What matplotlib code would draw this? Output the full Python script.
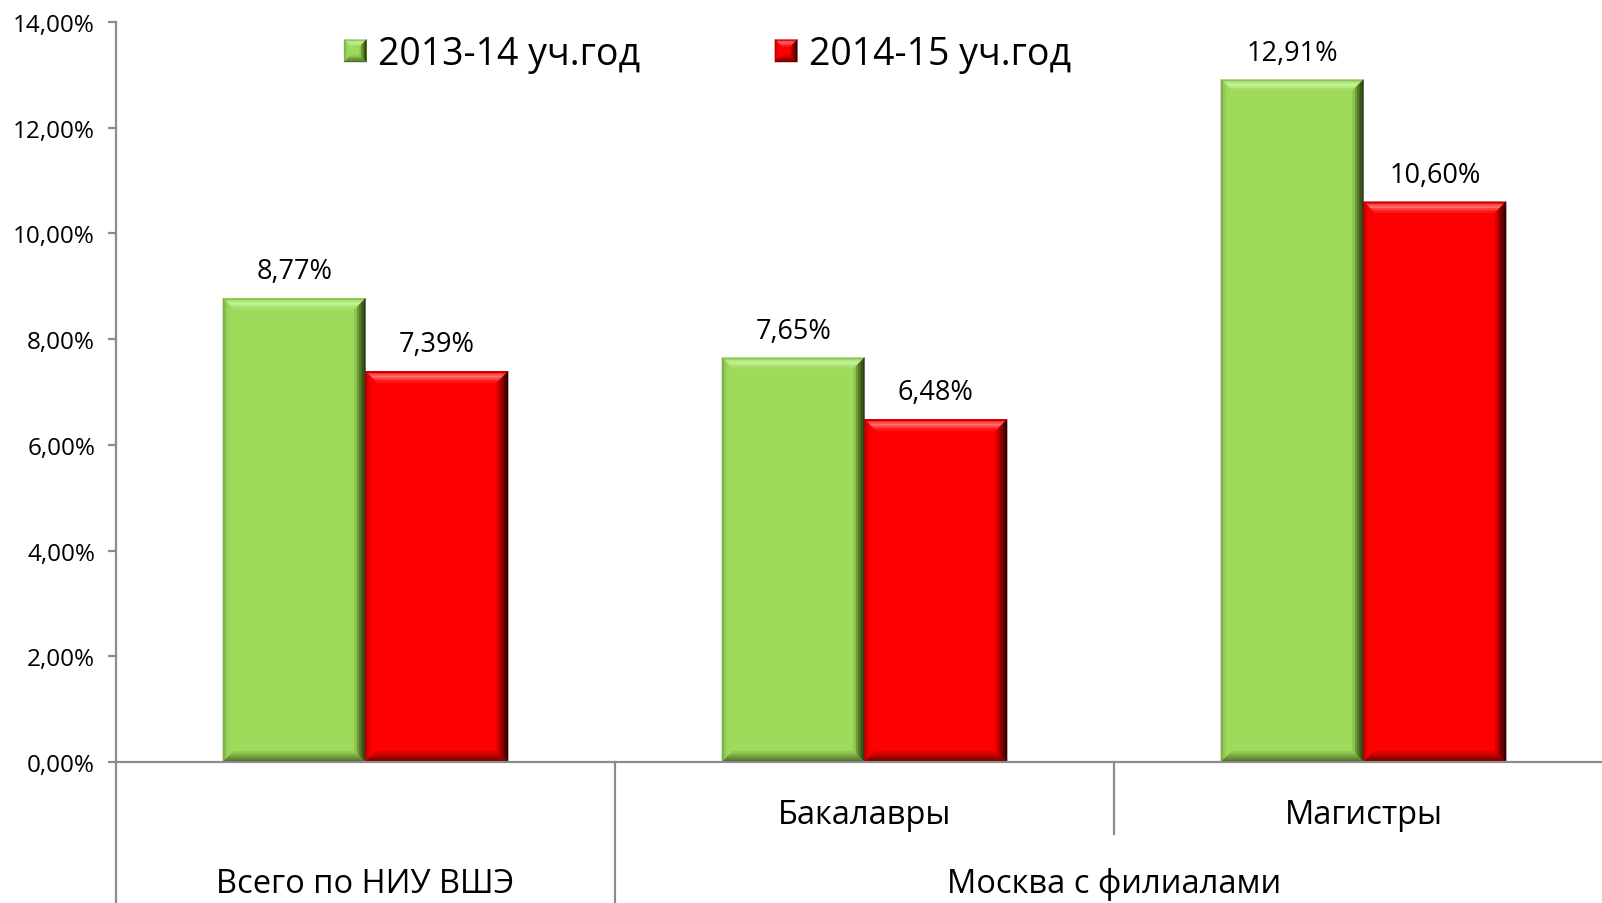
import matplotlib
matplotlib.use("Agg")
import matplotlib.pyplot as plt
from matplotlib.patches import Polygon
from matplotlib.legend_handler import HandlerBase
from matplotlib.transforms import blended_transform_factory

plt.rcParams['font.family'] = ['Open Sans', 'DejaVu Sans']

# ---- data ----
series_names = ["2013-14 уч.год", "2014-15 уч.год"]
values_2013 = [8.77, 7.65, 12.91]
values_2014 = [7.39, 6.48, 10.60]
labels_2013 = ["8,77%", "7,65%", "12,91%"]
labels_2014 = ["7,39%", "6,48%", "10,60%"]
sub_categories = ["", "Бакалавры", "Магистры"]
top_categories = ["Всего по НИУ ВШЭ", "Москва с филиалами"]
top_spans = [(0, 0), (1, 2)]
y_ticks = [0, 2, 4, 6, 8, 10, 12, 14]
y_tick_labels = ["0,00%", "2,00%", "4,00%", "6,00%", "8,00%", "10,00%", "12,00%", "14,00%"]

W, H = 1602, 904
fig = plt.figure(figsize=(W / 100, H / 100), dpi=100)
ax_left, ax_top, ax_bottom, ax_right = 116, 23, 763, 1613
ax = fig.add_axes([ax_left / W, 1 - ax_bottom / H, (ax_right - ax_left) / W, (ax_bottom - ax_top) / H])
ax.set_xlim(-0.5, 2.5)
ax.set_ylim(0, 14)

px_x = 3.0 / (ax_right - ax_left)
px_y = 14.0 / (ax_bottom - ax_top)

green = dict(main="#9edb5b",
             top=["#8cc655", "#b5e884", "#c6f096", "#b4e67f", "#a6de6a"],
             left=["#7fae4a", "#92c856", "#9ad659", "#9edb5b", "#9edb5b"],
             right=["#2a3c12", "#3c561b", "#547826", "#6e9c36", "#8cc64e"],
             bottom=["#4e7028", "#5e8632", "#6f9c3c", "#82b247", "#93c952"])
red = dict(main="#ff0000",
           top=["#cc0000", "#ff4a4a", "#ff6b6b", "#ff4040", "#ff1a1a"],
           left=["#c00000", "#e00000", "#f80000", "#ff0000", "#ff0000"],
           right=["#380000", "#560000", "#7c0000", "#a80000", "#d60000"],
           bottom=["#700000", "#8c0000", "#a60000", "#c40000", "#e20000"])

bw = 1.0 / 3.5
xs = [0, 1, 2]
bars_g = ax.bar([x - bw / 2 for x in xs], values_2013, width=bw, color=green["main"], linewidth=0, zorder=2)
bars_r = ax.bar([x + bw / 2 for x in xs], values_2014, width=bw, color=red["main"], linewidth=0, zorder=2)

bev = 11


def faces_for(x0, y0, x1, y1, dx, dy, c):
    out = []
    n = len(c["top"])
    for i in range(n):
        a, b = i / n, (i + 1) / n
        ax0, ax1 = x0 + dx * a, x1 - dx * a
        ay0, ay1 = y0 + dy * a, y1 - dy * a
        bx0, bx1 = x0 + dx * b, x1 - dx * b
        by0, by1 = y0 + dy * b, y1 - dy * b
        out.append(([(ax0, ay1), (ax1, ay1), (bx1, by1), (bx0, by1)], c["top"][i]))
        out.append(([(ax0, ay0), (ax0, ay1), (bx0, by1), (bx0, by0)], c["left"][i]))
        out.append(([(ax1, ay0), (ax1, ay1), (bx1, by1), (bx1, by0)], c["right"][i]))
        out.append(([(ax0, ay0), (ax1, ay0), (bx1, by0), (bx0, by0)], c["bottom"][i]))
    return out


def bevel(a, bar, c):
    x0 = bar.get_x()
    x1 = x0 + bar.get_width()
    y1 = bar.get_height()
    for pts, col in faces_for(x0, 0, x1, y1, bev * px_x, bev * px_y, c):
        a.add_patch(Polygon(pts, closed=True, facecolor=col, edgecolor=col, lw=0.3, zorder=3))


for b in bars_g:
    bevel(ax, b, green)
for b in bars_r:
    bevel(ax, b, red)

for b, lab in zip(bars_g, labels_2013):
    ax.annotate(lab, (b.get_x() + b.get_width() / 2, b.get_height()), xytext=(0, 27),
                textcoords='offset pixels', ha='center', va='center', fontsize=19.5, color='black')
for b, lab in zip(bars_r, labels_2014):
    ax.annotate(lab, (b.get_x() + b.get_width() / 2, b.get_height()), xytext=(0, 27),
                textcoords='offset pixels', ha='center', va='center', fontsize=19.5, color='black')

# axes styling
axis_col = "#8c8c8c"
for s in ['top', 'right', 'bottom']:
    ax.spines[s].set_visible(False)
ax.spines['left'].set_color(axis_col)
ax.spines['left'].set_linewidth(1.6)
ax.set_yticks(y_ticks)
ax.set_yticklabels(y_tick_labels, fontsize=17.5)
ax.tick_params(axis='y', direction='out', length=6, width=1.6, color=axis_col, pad=9)
ax.set_xticks([])
ax.axhline(0, color=axis_col, lw=1.6, zorder=4, clip_on=False)

trans = blended_transform_factory(ax.transData, ax.transAxes)
ah = ax_bottom - ax_top
y_bot = -(H - ax_bottom) / ah - 0.01
y_row1 = -(835 - ax_bottom) / ah
ax.plot([-0.5, -0.5], [0, y_bot], color=axis_col, lw=1.6, transform=trans, clip_on=False)
ax.plot([0.5, 0.5], [0, y_bot], color=axis_col, lw=1.6, transform=trans, clip_on=False)
ax.plot([1.5, 1.5], [0, y_row1], color=axis_col, lw=1.6, transform=trans, clip_on=False)

for i, lab in enumerate(sub_categories):
    if lab:
        ax.text(i, -(816 - ax_bottom) / ah, lab, transform=trans, ha='center', va='center', fontsize=23.5)
for lab, (a, b) in zip(top_categories, top_spans):
    ax.text((a + b) / 2, -(885 - ax_bottom) / ah, lab, transform=trans, ha='center', va='center', fontsize=23.5)


# legend with bevelled markers
class HandlerBevel(HandlerBase):
    def __init__(self, cols):
        super().__init__()
        self.cols = cols

    def create_artists(self, legend, orig_handle, xdescent, ydescent, width, height, fontsize, trans):
        c = self.cols
        s = min(width, height)
        x0 = -xdescent
        y0 = -ydescent + (height - s) / 2
        x1, y1 = x0 + s, y0 + s
        d = s * 0.32
        arts = [Polygon([(x0, y0), (x1, y0), (x1, y1), (x0, y1)], closed=True,
                        facecolor=c["main"], edgecolor='none', transform=trans)]
        for pts, col in faces_for(x0, y0, x1, y1, d, d, c):
            arts.append(Polygon(pts, closed=True, facecolor=col, edgecolor=col, lw=0.2, transform=trans))
        return arts


leg = ax.legend([bars_g, bars_r], series_names, ncol=2, frameon=False, fontsize=27,
                loc='center left', bbox_to_anchor=(344 / W, 1 - 55 / H), bbox_transform=fig.transFigure,
                borderpad=0, borderaxespad=0, handlelength=0.6, handleheight=0.6, handletextpad=0.3,
                columnspacing=3.6,
                handler_map={bars_g: HandlerBevel(green), bars_r: HandlerBevel(red)})

fig.savefig("out.png", dpi=100)
